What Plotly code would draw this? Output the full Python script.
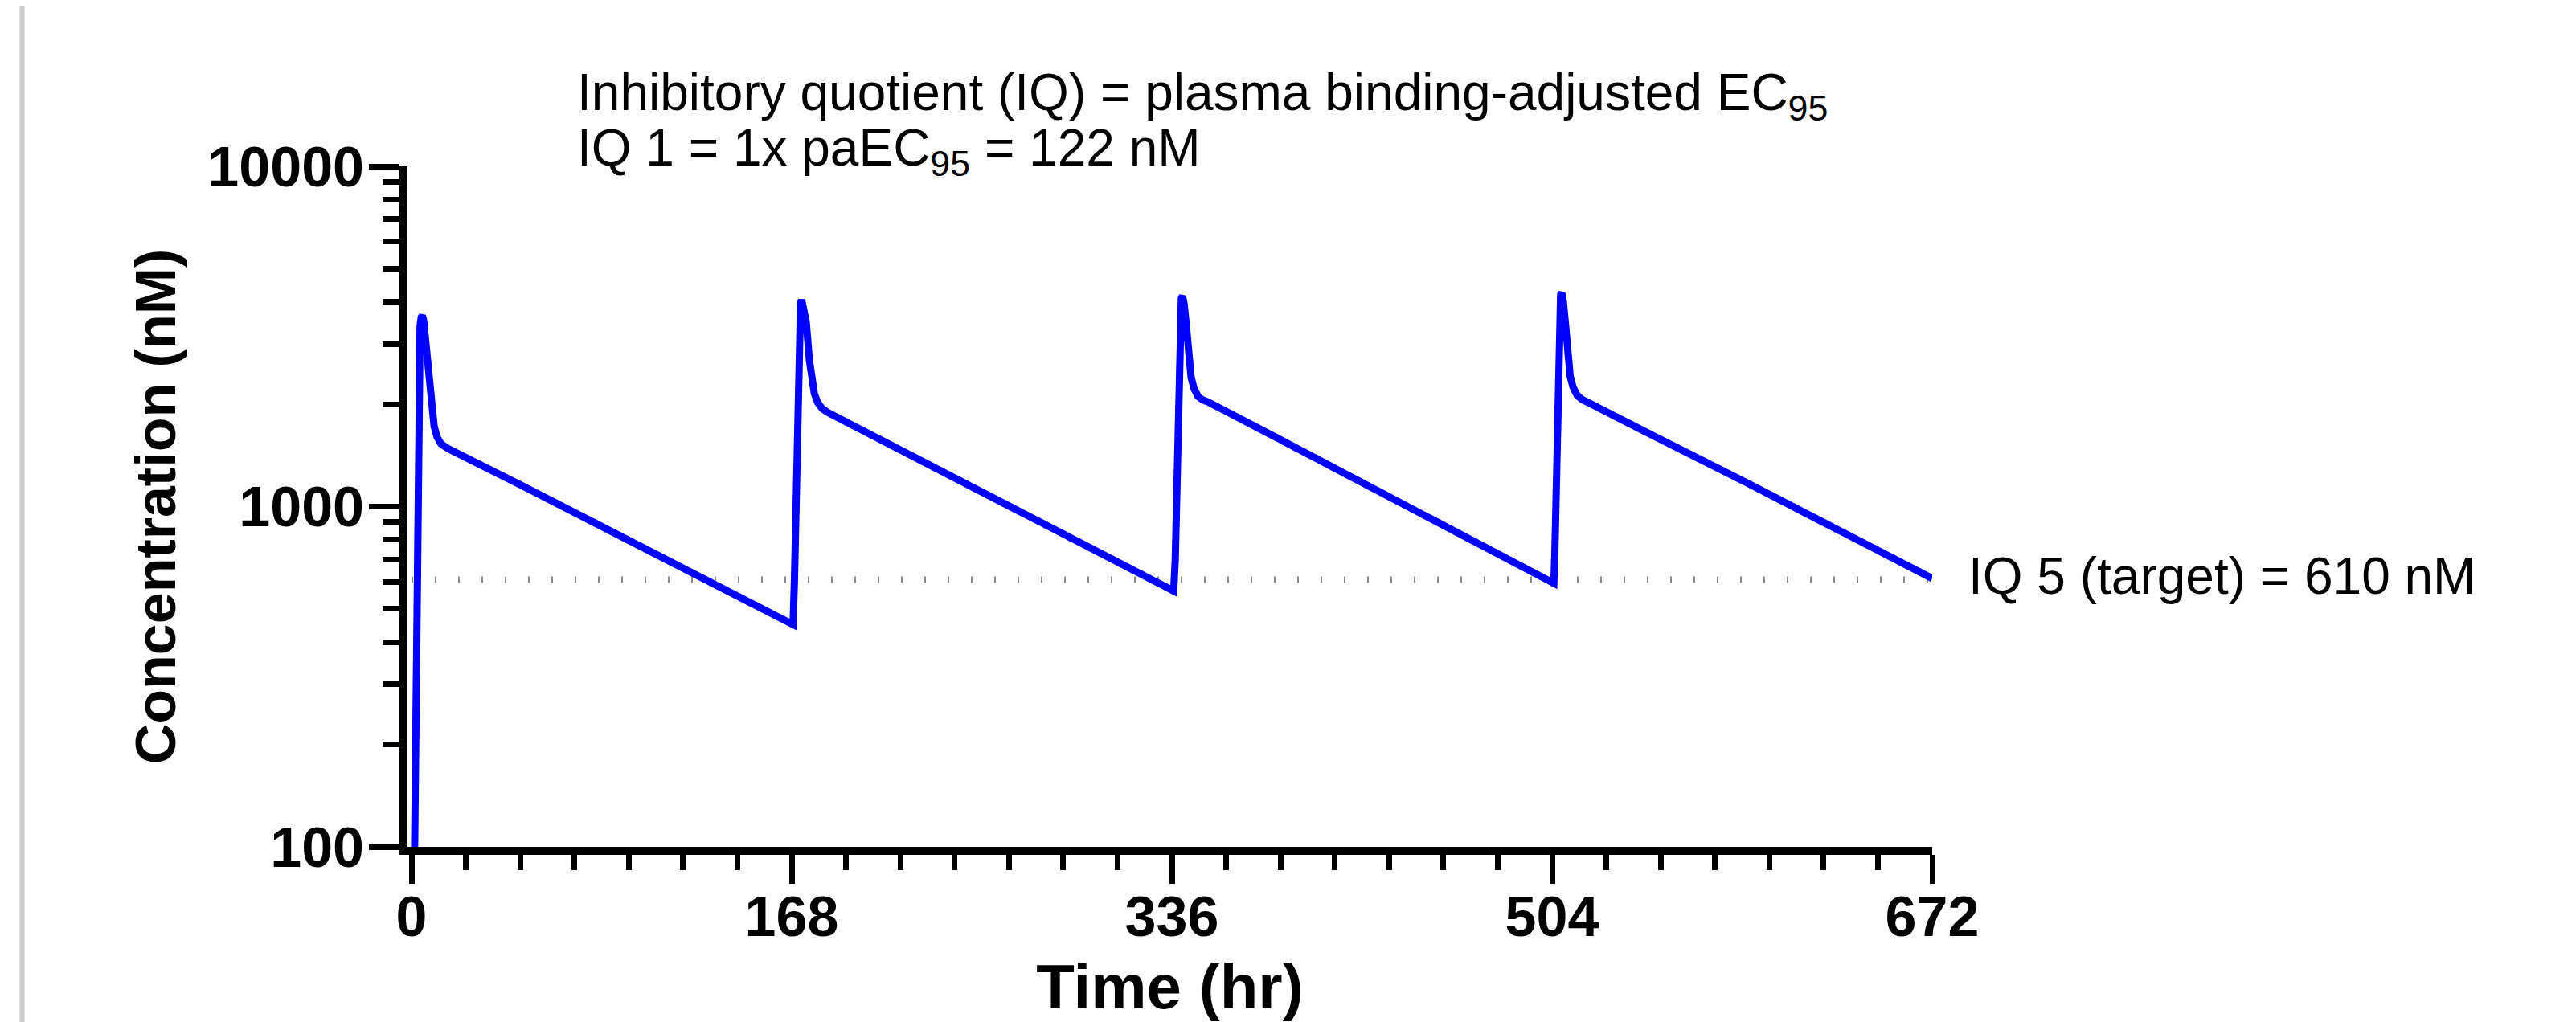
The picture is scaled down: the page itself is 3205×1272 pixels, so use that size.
import math
import plotly.graph_objects as go

# ---- data ----
dose1_t = [1.3, 2.0, 2.5, 2.9, 3.3, 3.8, 4.3, 4.8, 5.4, 6.1, 6.9, 7.6, 8.3, 9.0, 10.0, 11.3, 13.0, 15.5, 18.0, 48.0, 108.7, 168.6]
dose1_c = [90, 400, 1000, 2000, 2900, 3400, 3600, 3640, 3500, 3150, 2750, 2450, 2150, 1900, 1720, 1600, 1530, 1490, 1460, 1160, 720, 450]
dose2_t = [169.2, 169.8, 170.4, 170.9, 171.4, 171.9, 172.4, 173.2, 174.4, 175.8, 176.8, 178.0, 179.5, 181.5, 184.0, 211.0, 244.0, 336.8]
dose2_c = [600, 1000, 1700, 2700, 3500, 3950, 4050, 3850, 3500, 2700, 2450, 2150, 2020, 1940, 1890, 1530, 1180, 565]
dose3_t = [337.5, 338.0, 338.6, 339.1, 339.6, 340.2, 340.7, 341.4, 342.4, 343.4, 344.5, 345.8, 347.5, 349.5, 352.0, 381.8, 417.0, 504.8]
dose3_c = [700, 1100, 1900, 2900, 3700, 4100, 4150, 3950, 3400, 2700, 2400, 2220, 2110, 2060, 2030, 1600, 1210, 595]
dose4_t = [505.3, 505.8, 506.3, 506.8, 507.3, 507.8, 508.3, 509.0, 510.0, 511.0, 512.0, 513.3, 515.0, 517.0, 520.0, 548.7, 590.0, 672.0]
dose4_c = [750, 1200, 2000, 3000, 3800, 4200, 4250, 4000, 3400, 2700, 2420, 2240, 2130, 2070, 2020, 1615, 1175, 615]

time_hr = dose1_t + dose2_t + dose3_t + dose4_t
conc_nM = dose1_c + dose2_c + dose3_c + dose4_c

target_nM = 610
target_span = [0, 672]
target_label = "IQ 5 (target) = 610 nM"
note_line1 = "Inhibitory quotient (IQ) = plasma binding-adjusted EC<sub>95</sub>"
note_line2 = "IQ 1 = 1x paEC<sub>95</sub> = 122 nM"

x_ticks = [0, 168, 336, 504, 672]
y_ticks = [100, 1000, 10000]
y_ticktext = ["100", "1000", "10000"]
y_minor = [200, 300, 400, 500, 600, 700, 800, 900, 2000, 3000, 4000, 5000, 6000, 7000, 8000, 9000]

# the page body adds an 8px margin, so the figure is 8px smaller than the window
W, H = 3197, 1264
L, R, T, B = 499, 801, 199, 218
pw, ph = W - L - R, H - T - B

def px_x(px):
    return (px - L) / pw

def px_y(py):
    return (H - B - py) / ph

fig = go.Figure()
fig.add_trace(go.Scatter(
    x=target_span, y=[target_nM, target_nM], mode="lines",
    line=dict(color="#8a8a8a", width=8, dash="2px,27px"),
    hoverinfo="skip", showlegend=False))
fig.add_trace(go.Scatter(
    x=time_hr, y=conc_nM, mode="lines",
    line=dict(color="#0000ff", width=9),
    showlegend=False))

tickfont = dict(family="Liberation Sans, Arial, sans-serif", size=70, color="black", weight="bold")

fig.update_layout(
    width=W, height=H,
    margin=dict(l=L, r=R, t=T, b=B, autoexpand=False),
    paper_bgcolor="white", plot_bgcolor="white",
    showlegend=False,
    xaxis=dict(
        range=[-1.78, 672], tickvals=x_ticks, ticks="outside",
        ticklen=36, tickwidth=7, tickcolor="black",
        showline=True, linewidth=10, linecolor="black",
        showgrid=False, zeroline=False, tickfont=tickfont,
        ticklabelstandoff=-19,
        minor=dict(dtick=24, tick0=0, ticks="outside", ticklen=19, tickwidth=7, tickcolor="black", showgrid=False),
        title=dict(text="Time (hr)", standoff=112,
                   font=dict(family="Liberation Sans, Arial, sans-serif", size=78, color="black", weight="bold")),
    ),
    yaxis=dict(
        type="log", range=[2, 4], tickvals=y_ticks, ticktext=y_ticktext, ticks="outside",
        ticklen=38, tickwidth=7, tickcolor="black",
        showline=True, linewidth=10, linecolor="black",
        showgrid=False, zeroline=False, tickfont=tickfont,
        ticklabelstandoff=-8,
        minor=dict(tickvals=y_minor, ticks="outside", ticklen=21, tickwidth=7, tickcolor="black", showgrid=False),
        title=dict(text="Concentration (nM)", standoff=21,
                   font=dict(family="Liberation Sans, Arial, sans-serif", size=70, color="black", weight="bold")),
    ),
)

notefont = dict(family="Liberation Sans, Arial, sans-serif", size=64, color="black")
fig.add_annotation(x=px_x(708), y=px_y(153), xref="paper", yref="paper", text=note_line1,
                   showarrow=False, xanchor="left", yanchor="bottom", font=notefont)
fig.add_annotation(x=px_x(708), y=px_y(222), xref="paper", yref="paper", text=note_line2,
                   showarrow=False, xanchor="left", yanchor="bottom", font=notefont)
fig.add_annotation(x=px_x(2439), y=math.log10(target_nM), xref="paper", yref="y", text=target_label,
                   showarrow=False, xanchor="left", yanchor="middle", yshift=4, font=notefont)

fig.add_shape(type="line", xref="paper", yref="paper",
              x0=px_x(19.5), x1=px_x(19.5), y0=px_y(H + 20), y1=px_y(-20),
              line=dict(color="#cccccc", width=6))

fig.write_html("out.html")
